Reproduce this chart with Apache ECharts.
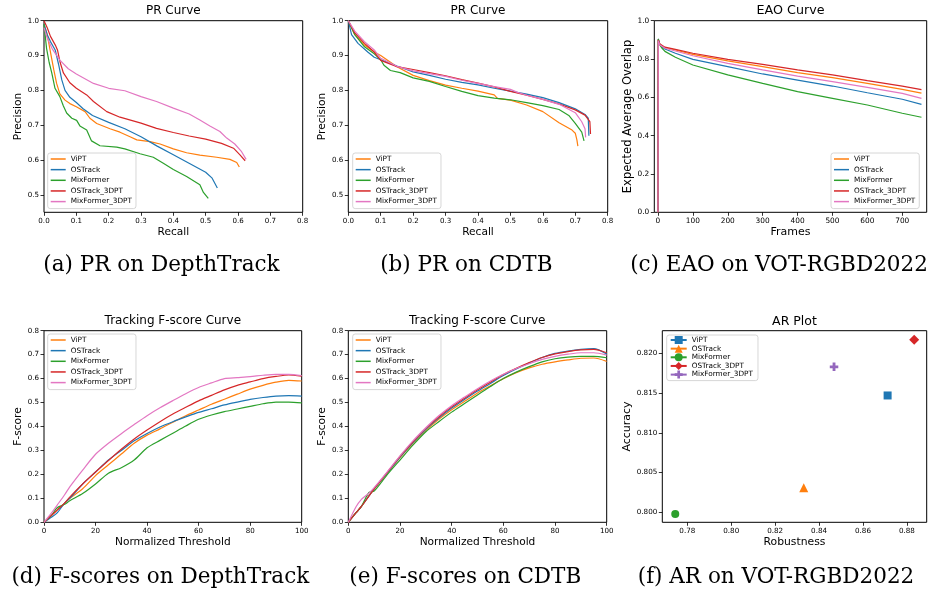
<!DOCTYPE html>
<html><head><meta charset="utf-8">
<script src="https://cdn.jsdelivr.net/npm/echarts@6/dist/echarts.min.js"></script>
<style>html,body{margin:0;padding:0;background:#fff}#c{width:933px;height:593px}</style>
</head><body><div id="c"></div>
<script>
const methods = ['ViPT', 'OSTrack', 'MixFormer', 'OSTrack_3DPT', 'MixFormer_3DPT'];
const lineColors = ['#ff7f0e', '#1f77b4', '#2ca02c', '#d62728', '#e377c2'];
const arColors = ['#1f77b4', '#ff7f0e', '#2ca02c', '#d62728', '#9467bd'];

// (a) PR on DepthTrack: [recall, precision]
const prDepthViPT = [[0,0.99],[0.01,0.96],[0.02,0.91],[0.03,0.86],[0.039,0.82],[0.049,0.79],[0.065,0.772],[0.08,0.762],[0.1,0.753],[0.127,0.739],[0.142,0.72],[0.163,0.705],[0.204,0.69],[0.235,0.68],[0.266,0.667],[0.287,0.658],[0.328,0.653],[0.359,0.646],[0.4,0.632],[0.441,0.621],[0.482,0.614],[0.534,0.608],[0.575,0.602],[0.596,0.593],[0.604,0.58]];
const prDepthOSTrack = [[0,0.99],[0.01,0.96],[0.02,0.94],[0.035,0.915],[0.045,0.875],[0.055,0.83],[0.065,0.8],[0.08,0.78],[0.1,0.765],[0.12,0.748],[0.15,0.728],[0.2,0.708],[0.25,0.69],[0.3,0.667],[0.35,0.64],[0.4,0.615],[0.45,0.59],[0.5,0.565],[0.52,0.548],[0.536,0.52]];
const prDepthMixFormer = [[0,0.99],[0.008,0.92],[0.016,0.88],[0.024,0.85],[0.034,0.806],[0.049,0.782],[0.06,0.755],[0.07,0.735],[0.086,0.72],[0.101,0.714],[0.111,0.698],[0.132,0.686],[0.147,0.655],[0.173,0.641],[0.225,0.637],[0.25,0.632],[0.297,0.618],[0.338,0.608],[0.369,0.591],[0.4,0.573],[0.441,0.553],[0.482,0.529],[0.493,0.507],[0.508,0.49]];
const prDepthOSTrack3D = [[0,1.0],[0.01,0.98],[0.02,0.955],[0.035,0.93],[0.042,0.915],[0.05,0.88],[0.06,0.85],[0.08,0.822],[0.1,0.806],[0.132,0.787],[0.153,0.768],[0.194,0.739],[0.235,0.723],[0.3,0.706],[0.348,0.691],[0.4,0.679],[0.449,0.669],[0.5,0.66],[0.549,0.648],[0.586,0.634],[0.606,0.615],[0.622,0.598]];
const prDepthMixFormer3D = [[0,0.98],[0.01,0.95],[0.025,0.92],[0.049,0.887],[0.075,0.862],[0.1,0.847],[0.153,0.82],[0.2,0.806],[0.25,0.799],[0.3,0.782],[0.348,0.768],[0.4,0.749],[0.449,0.732],[0.482,0.715],[0.513,0.698],[0.544,0.682],[0.565,0.663],[0.59,0.646],[0.611,0.624],[0.625,0.602]];

// (b) PR on CDTB: [recall, precision]
const prCdtbViPT = [[0,1.0],[0.02,0.96],[0.05,0.93],[0.08,0.91],[0.1,0.9],[0.15,0.868],[0.2,0.843],[0.25,0.828],[0.3,0.815],[0.35,0.806],[0.4,0.798],[0.45,0.787],[0.46,0.777],[0.5,0.772],[0.55,0.758],[0.6,0.739],[0.65,0.707],[0.69,0.686],[0.7,0.677],[0.705,0.658],[0.708,0.64]];
const prCdtbOSTrack = [[0,1.0],[0.01,0.96],[0.03,0.935],[0.06,0.91],[0.08,0.895],[0.1,0.888],[0.15,0.87],[0.2,0.853],[0.25,0.843],[0.3,0.832],[0.35,0.823],[0.4,0.816],[0.45,0.806],[0.5,0.798],[0.55,0.789],[0.6,0.779],[0.65,0.765],[0.7,0.747],[0.73,0.731],[0.74,0.72],[0.742,0.67]];
const prCdtbMixFormer = [[0,1.0],[0.02,0.96],[0.05,0.925],[0.08,0.905],[0.1,0.888],[0.11,0.872],[0.13,0.857],[0.16,0.851],[0.2,0.836],[0.25,0.826],[0.3,0.811],[0.35,0.797],[0.4,0.785],[0.45,0.778],[0.5,0.773],[0.55,0.765],[0.6,0.756],[0.65,0.745],[0.68,0.728],[0.7,0.705],[0.72,0.68],[0.727,0.655]];
const prCdtbOSTrack3D = [[0,1.0],[0.02,0.965],[0.05,0.935],[0.08,0.91],[0.1,0.886],[0.15,0.868],[0.2,0.86],[0.25,0.851],[0.3,0.842],[0.35,0.831],[0.4,0.821],[0.45,0.81],[0.5,0.797],[0.55,0.786],[0.6,0.774],[0.65,0.761],[0.7,0.744],[0.73,0.729],[0.745,0.71],[0.747,0.675]];
const prCdtbMixFormer3D = [[0,1.0],[0.02,0.97],[0.05,0.94],[0.08,0.916],[0.1,0.892],[0.15,0.869],[0.2,0.856],[0.25,0.848],[0.3,0.84],[0.35,0.829],[0.4,0.82],[0.45,0.811],[0.5,0.803],[0.52,0.795],[0.55,0.786],[0.6,0.774],[0.65,0.76],[0.7,0.736],[0.72,0.71],[0.73,0.69],[0.732,0.665]];

// (c) EAO on VOT-RGBD2022
const eaoFrames = [0, 1, 5, 10, 20, 50, 100, 200, 300, 400, 500, 600, 700, 755];
const eaoViPT = [0, 0.9, 0.878, 0.867, 0.859, 0.847, 0.824, 0.79, 0.76, 0.729, 0.703, 0.673, 0.642, 0.622];
const eaoOSTrack = [0, 0.905, 0.878, 0.865, 0.852, 0.83, 0.798, 0.76, 0.722, 0.69, 0.659, 0.624, 0.59, 0.563];
const eaoMixFormer = [0, 0.905, 0.875, 0.86, 0.84, 0.809, 0.769, 0.717, 0.673, 0.63, 0.595, 0.56, 0.517, 0.496];
const eaoOSTrack3D = [0, 0.9, 0.88, 0.87, 0.862, 0.85, 0.83, 0.798, 0.772, 0.743, 0.717, 0.687, 0.659, 0.64];
const eaoMixFormer3D = [0, 0.895, 0.875, 0.865, 0.856, 0.842, 0.817, 0.777, 0.743, 0.711, 0.682, 0.652, 0.621, 0.595];

// (d) F-score on DepthTrack
const fThresholds = [0, 3, 5, 8, 10, 15, 20, 25, 30, 35, 40, 45, 50, 55, 60, 65, 70, 75, 80, 85, 90, 95, 100];
const fDepthViPT = [0, 0.03, 0.05, 0.08, 0.1, 0.14, 0.195, 0.24, 0.285, 0.33, 0.364, 0.39, 0.418, 0.445, 0.469, 0.493, 0.514, 0.535, 0.556, 0.572, 0.585, 0.593, 0.59];
const fDepthOSTrack = [0, 0.022, 0.038, 0.08, 0.1, 0.16, 0.21, 0.26, 0.3, 0.34, 0.371, 0.398, 0.42, 0.44, 0.459, 0.474, 0.49, 0.502, 0.513, 0.521, 0.527, 0.529, 0.527];
const fDepthMixFormer = [0, 0.03, 0.06, 0.075, 0.09, 0.12, 0.16, 0.205, 0.228, 0.26, 0.311, 0.342, 0.372, 0.402, 0.43, 0.448, 0.462, 0.473, 0.484, 0.495, 0.502, 0.502, 0.499];
const fDepthOSTrack3D = [0, 0.03, 0.05, 0.08, 0.105, 0.16, 0.21, 0.258, 0.305, 0.348, 0.385, 0.42, 0.452, 0.48, 0.507, 0.53, 0.553, 0.572, 0.586, 0.6, 0.609, 0.615, 0.61];
const fDepthMixFormer3D = [0, 0.04, 0.07, 0.115, 0.148, 0.218, 0.284, 0.33, 0.37, 0.408, 0.445, 0.478, 0.508, 0.537, 0.563, 0.582, 0.6, 0.604, 0.608, 0.614, 0.618, 0.618, 0.613];

// (e) F-score on CDTB
const fCdtbViPT = [0, 0.04, 0.065, 0.11, 0.14, 0.205, 0.27, 0.33, 0.383, 0.43, 0.47, 0.505, 0.54, 0.57, 0.6, 0.625, 0.645, 0.66, 0.67, 0.678, 0.685, 0.686, 0.672];
const fCdtbOSTrack = [0, 0.04, 0.065, 0.11, 0.14, 0.205, 0.272, 0.333, 0.388, 0.435, 0.477, 0.513, 0.548, 0.58, 0.613, 0.64, 0.665, 0.688, 0.705, 0.715, 0.722, 0.725, 0.703];
const fCdtbMixFormer = [0, 0.04, 0.065, 0.125, 0.13, 0.198, 0.26, 0.322, 0.378, 0.42, 0.46, 0.496, 0.532, 0.567, 0.6, 0.627, 0.65, 0.67, 0.683, 0.69, 0.693, 0.693, 0.687];
const fCdtbOSTrack3D = [0, 0.04, 0.065, 0.11, 0.14, 0.207, 0.275, 0.336, 0.392, 0.44, 0.482, 0.518, 0.553, 0.585, 0.617, 0.643, 0.667, 0.688, 0.703, 0.713, 0.72, 0.722, 0.708];
const fCdtbMixFormer3D = [0, 0.065, 0.095, 0.122, 0.145, 0.21, 0.277, 0.34, 0.395, 0.445, 0.487, 0.523, 0.558, 0.59, 0.618, 0.642, 0.662, 0.68, 0.693, 0.702, 0.708, 0.708, 0.698];

// (f) AR on VOT-RGBD2022: [robustness, accuracy]
const arViPT = [0.8712, 0.8147];
const arOSTrack = [0.8330, 0.8031];
const arMixFormer = [0.7745, 0.7998];
const arOSTrack3D = [0.8833, 0.8217];
const arMixFormer3D = [0.8468, 0.8183];

// tick labels
const prRecallTicks = [0, 0.1, 0.2, 0.3, 0.4, 0.5, 0.6, 0.7, 0.8];
const prPrecisionTicks = [0.5, 0.6, 0.7, 0.8, 0.9, 1.0];
const eaoFrameTicks = [0, 100, 200, 300, 400, 500, 600, 700];
const eaoOverlapTicks = [0, 0.2, 0.4, 0.6, 0.8, 1.0];
const fThresholdTicks = [0, 20, 40, 60, 80, 100];
const fScoreTicks = [0, 0.1, 0.2, 0.3, 0.4, 0.5, 0.6, 0.7, 0.8];
const arRobustTicks = [0.78, 0.80, 0.82, 0.84, 0.86, 0.88];
const arAccuracyTicks = [0.800, 0.805, 0.810, 0.815, 0.820];

const panelTitles = ['PR Curve', 'PR Curve', 'EAO Curve', 'Tracking F-score Curve', 'Tracking F-score Curve', 'AR Plot'];
const captions = ['(a) PR on DepthTrack', '(b) PR on CDTB', '(c) EAO on VOT-RGBD2022', '(d) F-scores on DepthTrack', '(e) F-scores on CDTB', '(f) AR on VOT-RGBD2022'];

const SANS = 'DejaVu Sans';
const SERIF = 'DejaVu Serif';

const gridBoxes = [
  {left: 44, top: 20.7, width: 258.7, height: 191.6},
  {left: 348.3, top: 20.7, width: 259.4, height: 191.6},
  {left: 654.3, top: 20.7, width: 272.4, height: 191.6},
  {left: 44, top: 330.7, width: 257.7, height: 191.6},
  {left: 348.3, top: 330.7, width: 258.4, height: 191.6},
  {left: 662.3, top: 330.7, width: 264.4, height: 191.6}
];
const grids = gridBoxes.map(b => Object.assign({show: true, borderColor: '#000', borderWidth: 1, backgroundColor: 'transparent', containLabel: false}, b));

function axis(gi, min, max, ticks, dec, name, gap, nameSize, tickSize) {
  return {
    type: 'value', gridIndex: gi, min: min, max: max, name: name, nameLocation: 'middle', nameGap: gap,
    nameTextStyle: {fontFamily: SANS, fontSize: nameSize, color: '#000'},
    axisLine: {show: false, onZero: false},
    axisTick: {show: true, length: 3.5, lineStyle: {color: '#000', width: 0.8}, customValues: ticks},
    axisLabel: {show: true, customValues: ticks, formatter: v => Number(v).toFixed(dec), fontFamily: SANS, fontSize: tickSize, color: '#000', margin: 5},
    splitLine: {show: false}
  };
}

const xAxes = [
  axis(0, 0, 0.8, prRecallTicks, 1, 'Recall', 14, 10.6, 7.1),
  axis(1, 0, 0.8, prRecallTicks, 1, 'Recall', 14, 10.6, 7.1),
  axis(2, -10.5, 770, eaoFrameTicks, 0, 'Frames', 14, 11, 7.4),
  axis(3, 0, 100, fThresholdTicks, 0, 'Normalized Threshold', 14, 10.6, 7.1),
  axis(4, 0, 100, fThresholdTicks, 0, 'Normalized Threshold', 14, 10.6, 7.1),
  axis(5, 0.7686, 0.889, arRobustTicks, 2, 'Robustness', 14, 10.8, 7.2)
];
const yAxes = [
  axis(0, 0.45, 1.0, prPrecisionTicks, 1, 'Precision', 17.5, 10.6, 7.1),
  axis(1, 0.45, 1.0, prPrecisionTicks, 1, 'Precision', 17.5, 10.6, 7.1),
  axis(2, 0, 1.0, eaoOverlapTicks, 1, 'Expected Average Overlap', 18.5, 11.5, 7.4),
  axis(3, 0, 0.8, fScoreTicks, 1, 'F-score', 17.5, 10.6, 7.1),
  axis(4, 0, 0.8, fScoreTicks, 1, 'F-score', 17.5, 10.6, 7.1),
  axis(5, 0.79874, 0.82285, arAccuracyTicks, 3, 'Accuracy', 27, 11, 7.2)
];

const series = [];
function addLine(gi, tag, idx, data, smooth) {
  series.push({
    type: 'line', name: methods[idx] + '#' + tag, xAxisIndex: gi, yAxisIndex: gi, data: data,
    symbol: 'none', showSymbol: false, smooth: smooth, animation: false,
    lineStyle: {color: lineColors[idx], width: 1.2}, itemStyle: {color: lineColors[idx]}
  });
}
[prDepthViPT, prDepthOSTrack, prDepthMixFormer, prDepthOSTrack3D, prDepthMixFormer3D].forEach((d, i) => addLine(0, 'a', i, d, false));
[prCdtbViPT, prCdtbOSTrack, prCdtbMixFormer, prCdtbOSTrack3D, prCdtbMixFormer3D].forEach((d, i) => addLine(1, 'b', i, d, false));
[eaoViPT, eaoOSTrack, eaoMixFormer, eaoOSTrack3D, eaoMixFormer3D].forEach((v, i) => addLine(2, 'c', i, eaoFrames.map((f, k) => [f, v[k]]), false));
[fDepthViPT, fDepthOSTrack, fDepthMixFormer, fDepthOSTrack3D, fDepthMixFormer3D].forEach((v, i) => addLine(3, 'd', i, fThresholds.map((t, k) => [t, v[k]]), 0.25));
[fCdtbViPT, fCdtbOSTrack, fCdtbMixFormer, fCdtbOSTrack3D, fCdtbMixFormer3D].forEach((v, i) => addLine(4, 'e', i, fThresholds.map((t, k) => [t, v[k]]), 0.25));

const arSymbols = ['rect', 'triangle', 'circle', 'diamond', 'path://M1,0H2V1H3V2H2V3H1V2H0V1H1Z'];
const arSizes = [8, 9, 8, 10, 8.5];
[arViPT, arOSTrack, arMixFormer, arOSTrack3D, arMixFormer3D].forEach((p, i) => {
  series.push({
    type: 'line', name: methods[i] + '#f', xAxisIndex: 5, yAxisIndex: 5, data: [p],
    symbol: arSymbols[i], symbolSize: arSizes[i], showSymbol: true, animation: false,
    lineStyle: {color: arColors[i], width: 1.2}, itemStyle: {color: arColors[i]}
  });
});

function legend(tag, left, top, isAR) {
  const base = {
    show: true, orient: 'vertical', left: left, top: top, selectedMode: false,
    data: methods.map(m => m + '#' + tag), formatter: n => n.split('#')[0],
    backgroundColor: 'rgba(255,255,255,0.8)', borderColor: '#cccccc', borderWidth: 0.8, borderRadius: 2.5,
    textStyle: {fontFamily: SANS, fontSize: 7.3, color: '#000', lineHeight: 8}
  };
  if (isAR) {
    return Object.assign(base, {itemWidth: 16, itemHeight: 10, itemGap: 0.65, padding: [1, 5, 2, 3]});
  }
  return Object.assign(base, {icon: 'rect', itemWidth: 15, itemHeight: 1.5, itemGap: 2.65, padding: [2, 4, 3, 3]});
}
const legends = [
  legend('a', 47.7, 153), legend('b', 352.7, 153), legend('c', 831, 153),
  legend('d', 47.7, 334), legend('e', 352.7, 334), legend('f', 666.7, 335, true)
];

const titleCenters = [[173.3, 4.5], [478, 4.5], [790.5, 4], [172.8, 315], [477.2, 315], [794.5, 315]];
const titleSizes = [12, 12, 12.7, 12, 12, 12.5];
const captionCenters = [[161.5, 254.5], [466.3, 254.5], [779, 254.5], [160.3, 566.5], [465.3, 566.5], [776, 566.5]];
const titles = [];
panelTitles.forEach((t, i) => titles.push({text: t, left: titleCenters[i][0], top: titleCenters[i][1], textAlign: 'center', padding: 0,
  textStyle: {fontFamily: SANS, fontSize: titleSizes[i], fontWeight: 'normal', color: '#000'}}));
captions.forEach((t, i) => titles.push({text: t, left: captionCenters[i][0], top: captionCenters[i][1], textAlign: 'center', padding: 0,
  textStyle: {fontFamily: SERIF, fontSize: 21.5, fontWeight: 'normal', color: '#000'}}));

const chart = echarts.init(document.getElementById('c'), null, {renderer: 'canvas'});
chart.setOption({
  animation: false,
  backgroundColor: '#fff',
  title: titles,
  legend: legends,
  grid: grids,
  xAxis: xAxes,
  yAxis: yAxes,
  series: series
});
</script></body></html>
